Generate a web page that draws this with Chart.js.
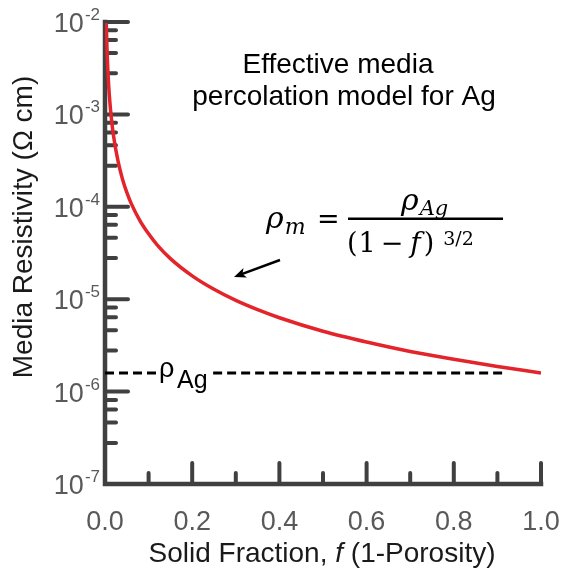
<!DOCTYPE html>
<html>
<head>
<meta charset="utf-8">
<script src="https://cdn.jsdelivr.net/npm/chart.js@4/dist/chart.umd.min.js"></script>
<style>
  html, body { margin: 0; background: #fff; }
</style>
</head>
<body>
<canvas id="chart" width="562" height="576"></canvas>
<script>
// Values
const solidFraction = [0.003, 0.004, 0.005, 0.007, 0.01, 0.015, 0.02, 0.03, 0.04, 0.05, 0.06, 0.08,
  0.1, 0.12, 0.15, 0.2, 0.25, 0.3, 0.35, 0.4, 0.5, 0.6, 0.7, 0.8, 0.9, 1.0];
const mediaResistivity = [9.7e-3, 6.3e-3, 4.5e-3, 2.7e-3, 1.6e-3, 8.7e-4, 5.7e-4, 3.1e-4, 2.0e-4, 1.43e-4, 1.09e-4, 7.1e-5,
  5.1e-5, 3.85e-5, 2.75e-5, 1.79e-5, 1.28e-5, 9.7e-6, 7.7e-6, 6.3e-6, 4.5e-6, 3.44e-6, 2.72e-6, 2.24e-6, 1.87e-6, 1.59e-6];
const rhoAg = 1.59e-6;
const refLineLeft = [0, 0.12];      // dashed line before the label
const refLineRight = [0.248, 0.922]; // dashed line after the label
const yMajorTicks = [1e-7, 1e-6, 1e-5, 1e-4, 1e-3, 1e-2];
const yTickExponents = ['-7', '-6', '-5', '-4', '-3', '-2'];
const xMajorTicks = [0.2, 0.4, 0.6, 0.8, 1.0];
const xMinorTicks = [0.1, 0.3, 0.5, 0.7, 0.9];
// minor y ticks sit at these fractions of a decade below each major tick
const yMinorSteps = [0.09, 0.195, 0.335, 0.555];

const axisColor = '#404040';
const labelColor = '#595959';
const sans = '"Liberation Sans", Arial, sans-serif';
const serif = '"DejaVu Serif", serif';

const curvePoints = solidFraction.map((f, i) => ({ x: f, y: mediaResistivity[i] }));
const refPoints = [
  { x: refLineLeft[0], y: rhoAg }, { x: refLineLeft[1], y: rhoAg },
  { x: (refLineLeft[1] + refLineRight[0]) / 2, y: null },
  { x: refLineRight[0], y: rhoAg }, { x: refLineRight[1], y: rhoAg }
];

// draw text pieces one after another; each piece may shift x/y a little
function runText(ctx, x, y, parts) {
  parts.forEach(p => {
    ctx.font = p.font;
    x += p.dx || 0;
    ctx.fillText(p.t, x, y + (p.dy || 0));
    x += ctx.measureText(p.t).width;
  });
  return x;
}

const decor = {
  id: 'decor',
  beforeDatasetsDraw(chart) {
    const { ctx, chartArea: a, scales: { x, y } } = chart;
    ctx.save();
    ctx.strokeStyle = axisColor;
    ctx.lineWidth = 4;
    ctx.lineCap = 'round';
    ctx.beginPath();
    // y ticks, pointing into the plot
    yMajorTicks.forEach((v, i) => {
      const py = y.getPixelForValue(v);
      ctx.moveTo(a.left, py); ctx.lineTo(a.left + 23, py);
      if (i > 0) {
        yMinorSteps.forEach(s => {
          const my = y.getPixelForValue(v * Math.pow(10, -s));
          ctx.moveTo(a.left, my); ctx.lineTo(a.left + 11, my);
        });
      }
    });
    // x ticks
    xMajorTicks.forEach(v => {
      const px = x.getPixelForValue(v);
      ctx.moveTo(px, a.bottom); ctx.lineTo(px, a.bottom - 21);
    });
    xMinorTicks.forEach(v => {
      const px = x.getPixelForValue(v);
      ctx.moveTo(px, a.bottom); ctx.lineTo(px, a.bottom - 11);
    });
    ctx.stroke();
    // axis lines
    ctx.lineWidth = 4.5;
    ctx.lineCap = 'square';
    ctx.beginPath();
    ctx.moveTo(a.left, a.top);
    ctx.lineTo(a.left, a.bottom);
    ctx.lineTo(a.right, a.bottom);
    ctx.stroke();
    ctx.restore();
  },
  afterDraw(chart) {
    const { ctx, chartArea: a, scales: { x, y } } = chart;
    ctx.save();

    // y tick labels: 10 with superscript exponent
    ctx.fillStyle = labelColor;
    ctx.textBaseline = 'alphabetic';
    ctx.textAlign = 'right';
    yMajorTicks.forEach((v, i) => {
      const py = y.getPixelForValue(v);
      ctx.font = '17px ' + sans;
      ctx.fillText(yTickExponents[i], a.left - 5, py - 2);
      const w = ctx.measureText(yTickExponents[i]).width;
      ctx.font = '27px ' + sans;
      ctx.fillText('10', a.left - 6 - w, py + 10);
    });

    // y axis title
    ctx.fillStyle = '#1a1a1a';
    ctx.textAlign = 'center';
    ctx.textBaseline = 'middle';
    ctx.font = '28px ' + sans;
    ctx.translate(24, 227);
    ctx.rotate(-Math.PI / 2);
    ctx.fillText('Media Resistivity (\u03A9 cm)', 0, 0);
    ctx.setTransform(1, 0, 0, 1, 0, 0);

    // x axis title, with italic f
    ctx.textAlign = 'left';
    ctx.textBaseline = 'alphabetic';
    const xParts = [
      { t: 'Solid Fraction, ', font: '28px ' + sans },
      { t: 'f', font: 'italic 28px ' + sans },
      { t: ' (1-Porosity)', font: '28px ' + sans }
    ];
    let total = 0;
    xParts.forEach(p => { ctx.font = p.font; total += ctx.measureText(p.t).width; });
    runText(ctx, 322 - total / 2, 562, xParts);

    // annotation
    ctx.fillStyle = '#000';
    ctx.textAlign = 'center';
    ctx.font = '28px ' + sans;
    ctx.fillText('Effective media', 338, 73);
    ctx.fillText('percolation model for Ag', 344, 105);

    // rho_Ag label on the dashed line
    const ry = y.getPixelForValue(rhoAg);
    ctx.textAlign = 'left';
    ctx.font = '27px ' + sans;
    ctx.fillText('\u03C1', 159, ry + 4);
    ctx.font = '25px ' + sans;
    ctx.fillText('Ag', 177, ry + 15);

    // formula
    runText(ctx, 266, 228, [
      { t: '\u03C1', font: 'italic 30px ' + serif },
      { t: 'm', font: 'italic 22px ' + serif, dy: 6, dx: 1 }
    ]);
    ctx.font = '27px ' + serif;
    ctx.fillText('=', 317, 228);
    runText(ctx, 401, 210, [
      { t: '\u03C1', font: 'italic 30px ' + serif },
      { t: 'Ag', font: 'italic 21px ' + serif, dy: 5, dx: 1 }
    ]);
    runText(ctx, 347, 252, [
      { t: '(', font: '27px ' + serif },
      { t: '1', font: '27px ' + serif, dx: 1 },
      { t: '\u2212', font: '27px ' + serif, dx: 5 },
      { t: 'f', font: 'italic 28px ' + serif, dx: 7 },
      { t: ')', font: '27px ' + serif, dx: 3 },
      { t: '3/2', font: '19px ' + serif, dx: 9, dy: -7 }
    ]);
    ctx.fillRect(348, 217.5, 155, 2.5);

    // arrow pointing at the curve
    const tail = { x: 280, y: 260 }, tip = { x: 234, y: 277 };
    const ang = Math.atan2(tip.y - tail.y, tip.x - tail.x);
    ctx.strokeStyle = '#000';
    ctx.lineWidth = 2.5;
    ctx.beginPath();
    ctx.moveTo(tail.x, tail.y);
    ctx.lineTo(tip.x - 6 * Math.cos(ang), tip.y - 6 * Math.sin(ang));
    ctx.stroke();
    ctx.beginPath();
    ctx.moveTo(tip.x, tip.y);
    ctx.lineTo(tip.x - 13 * Math.cos(ang - 0.4), tip.y - 13 * Math.sin(ang - 0.4));
    ctx.lineTo(tip.x - 9 * Math.cos(ang), tip.y - 9 * Math.sin(ang));
    ctx.lineTo(tip.x - 13 * Math.cos(ang + 0.4), tip.y - 13 * Math.sin(ang + 0.4));
    ctx.closePath();
    ctx.fill();

    ctx.restore();
  }
};

new Chart(document.getElementById('chart'), {
  type: 'line',
  data: {
    datasets: [
      {
        label: 'Media resistivity',
        data: curvePoints,
        borderColor: '#e3242b',
        borderWidth: 3.5,
        pointRadius: 0,
        cubicInterpolationMode: 'monotone',
        fill: false
      },
      {
        label: 'rho Ag',
        data: refPoints,
        borderColor: '#000',
        borderWidth: 3,
        borderDash: [9, 5],
        pointRadius: 0,
        spanGaps: false,
        fill: false
      }
    ]
  },
  options: {
    responsive: false,
    animation: false,
    layout: { padding: { top: 22, right: 21, left: 0, bottom: 0 } },
    plugins: { legend: { display: false }, tooltip: { enabled: false } },
    scales: {
      x: {
        type: 'linear',
        min: 0,
        max: 1,
        grid: { display: false, drawTicks: false },
        border: { display: false },
        ticks: {
          stepSize: 0.2,
          padding: 22,
          color: labelColor,
          font: { size: 27, family: sans },
          maxRotation: 0,
          callback: v => v.toFixed(1)
        },
        afterFit: s => { s.height = 92; s.paddingRight = 0; s.paddingLeft = 0; }
      },
      y: {
        type: 'logarithmic',
        min: 1e-7,
        max: 1e-2,
        grid: { display: false, drawTicks: false },
        border: { display: false },
        ticks: { display: false },
        afterFit: s => { s.width = 105; }
      }
    }
  },
  plugins: [decor]
});
</script>
</body>
</html>
